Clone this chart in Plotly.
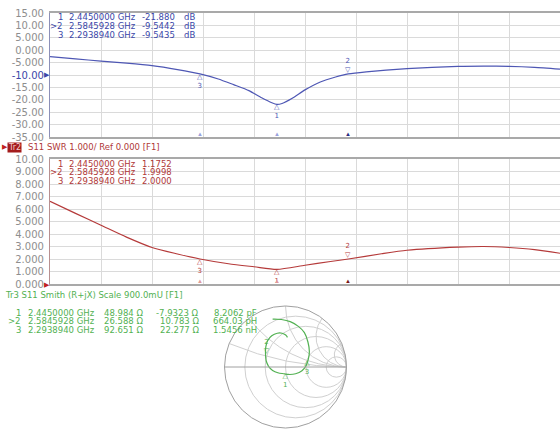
import numpy as np
import plotly.graph_objects as go

W, H = 560, 430

# ---------------- data ----------------
# Trace 1 : S11 log magnitude (dB)
freq_db = [2.000, 2.050, 2.100, 2.150, 2.200, 2.250, 2.294, 2.330, 2.360, 2.390,
           2.415, 2.435, 2.445, 2.455, 2.475, 2.500, 2.530, 2.560, 2.585, 2.620,
           2.700, 2.800, 2.850, 2.900, 2.950, 3.000]
s11_db = [-2.6, -3.5, -4.4, -5.2, -6.2, -7.8, -9.54, -11.6, -13.9, -16.3,
          -19.2, -21.2, -21.88, -21.5, -19.4, -16.0, -12.8, -10.8, -9.54, -8.7,
          -7.4, -6.5, -6.4, -6.5, -6.9, -7.6]

# Trace 2 : S11 SWR
freq_swr = [2.000, 2.050, 2.100, 2.150, 2.200, 2.250, 2.294, 2.350, 2.400, 2.445,
            2.500, 2.550, 2.585, 2.650, 2.700, 2.800, 2.850, 2.900, 2.950, 3.000]
swr = [6.62, 5.65, 4.70, 3.75, 2.92, 2.40, 2.00, 1.62, 1.38, 1.175,
       1.50, 1.80, 2.00, 2.42, 2.70, 2.95, 3.00, 2.92, 2.75, 2.46]

# Trace 3 : S11 Smith, reflection coefficient along the sweep (2 -> 3 GHz)
gamma_re = [-0.190, -0.060, 0.070, 0.190, 0.279, 0.331, 0.352, 0.337, 0.305, 0.243,
            0.149, 0.044, -0.018, -0.113, -0.190, -0.250, -0.285, -0.295, -0.290, -0.262,
            -0.203, -0.122, -0.050, 0.003, 0.029]
gamma_im = [0.706, 0.701, 0.669, 0.599, 0.507, 0.369, 0.230, 0.115, 0.023, -0.055,
            -0.100, -0.110, -0.100, -0.085, -0.050, 0.010, 0.092, 0.185, 0.300, 0.392,
            0.461, 0.498, 0.498, 0.471, 0.438]
SMITH_SCALE = 0.9  # "Scale 900.0mU"

# Markers
marker_ids = ["1", ">2", "3"]
marker_freq = [2.4450000, 2.5845928, 2.2938940]
marker_db = [-21.880, -9.5442, -9.5435]
marker_swr = [1.1752, 1.9998, 2.0000]
marker_R = [48.984, 26.588, 92.651]
marker_X = [-7.9323, 10.783, 22.277]
marker_LC = ["8.2062 pF", "664.03 pH", "1.5456 nH"]

db_ticks = [15, 10, 5, 0, -5, -10, -15, -20, -25, -30, -35]
db_ticktext = ["15.00", "10.00", "5.000", "0.000", "-5.000", "-10.00", "-15.00",
               "-20.00", "-25.00", "-30.00", "-35.00"]
swr_ticks = [10, 9, 8, 7, 6, 5, 4, 3, 2, 1, 0]
swr_ticktext = ["10.00", "9.000", "8.000", "7.000", "6.000", "5.000", "4.000",
                "3.000", "2.000", "1.000", "0.000"]

# ---------------- helpers ----------------
def px(x):
    return x / W

def py(y):
    return 1 - y / H

def fmt5(v):
    ints = len(str(int(abs(v)))) if abs(v) >= 1 else 1
    return f"{v:.{max(0, 5 - ints)}f}"

BLUE = "#4e57b4"
BLUE_TXT = "#3a46a8"
RED = "#b53a3a"
RED_TXT = "#b03838"
GREEN = "#52b152"
GRID = "#dadada"
LBL = "#8e8e8e"
FONT = "DejaVu Sans"

fig = go.Figure()

fig.add_trace(go.Scatter(x=freq_db, y=s11_db, mode="lines",
                         line=dict(color=BLUE, width=1.2, shape="spline", smoothing=0.6),
                         xaxis="x", yaxis="y", hoverinfo="skip", showlegend=False))
fig.add_trace(go.Scatter(x=freq_swr, y=swr, mode="lines",
                         line=dict(color=RED, width=1.2, shape="spline", smoothing=0.7),
                         xaxis="x2", yaxis="y2", hoverinfo="skip", showlegend=False))

g = (np.array(gamma_re) + 1j * np.array(gamma_im)) / SMITH_SCALE
z = (1 + g) / (1 - g)
fig.add_trace(go.Scattersmith(real=z.real, imag=z.imag, mode="lines",
                              line=dict(color=GREEN, width=1.2, shape="spline"),
                              subplot="smith", hoverinfo="skip", showlegend=False))

# smith markers
zm = (np.array(marker_R) + 1j * np.array(marker_X)) / 50.0
gm = (zm - 1) / (zm + 1) / SMITH_SCALE
zmd = (1 + gm) / (1 - gm)
for i, mid in enumerate(marker_ids):
    n = mid.replace(">", "")
    if n == "2":
        txt, pos = "2<br>▽", "top center"
    else:
        txt, pos = "△<br>" + n, "bottom center"
    fig.add_trace(go.Scattersmith(real=[zmd[i].real], imag=[zmd[i].imag], mode="text",
                                  text=[txt], textposition=pos,
                                  textfont=dict(color=GREEN, size=7, family=FONT),
                                  subplot="smith", hoverinfo="skip", showlegend=False))

common_x = dict(range=[2.0, 3.0], tick0=2.0, dtick=0.1, showticklabels=False,
                showgrid=True, gridcolor=GRID, gridwidth=1, zeroline=False, automargin=False,
                showline=True, mirror=True, linecolor="#a9a9a9", linewidth=1.5, ticks="")
common_y = dict(showgrid=True, gridcolor=GRID, gridwidth=1, zeroline=False, automargin=False,
                showline=True, linewidth=1.2, ticks="", tickmode="array",
                tickfont=dict(family=FONT, size=10, color=LBL), ticklabelstandoff=3)

db_tt = [('<span style="color:%s">%s</span>' % (BLUE_TXT, t)) if v == -10 else t
         for v, t in zip(db_ticks, db_ticktext)]

SC, SR = (285.5, 367.0), 61.0  # smith centre / radius in page pixels

fig.update_layout(
    width=W, height=H, margin=dict(l=0, r=0, t=0, b=0, autoexpand=False),
    paper_bgcolor="white", plot_bgcolor="white", showlegend=False,
    xaxis=dict(domain=[px(50), 1], anchor="y", **common_x),
    yaxis=dict(domain=[py(137), py(13)], anchor="x", range=[-35, 15],
               tickvals=db_ticks, ticktext=db_tt, linecolor="#8c90b8", **common_y),
    xaxis2=dict(domain=[px(50), 1], anchor="y2", **common_x),
    yaxis2=dict(domain=[py(284), py(159)], anchor="x2", range=[0, 10],
                tickvals=swr_ticks, ticktext=swr_ticktext, linecolor="#b89090", **common_y),
    smith=dict(domain=dict(x=[px(SC[0] - SR), px(SC[0] + SR)],
                           y=[py(SC[1] + SR), py(SC[1] - SR)]),
               bgcolor="white",
               realaxis=dict(showticklabels=False, ticks="", gridcolor="#d0d0d0",
                             linecolor="#a0a0a0", tickvals=[0.2, 0.5, 1, 2, 5]),
               imaginaryaxis=dict(showticklabels=False, ticks="", gridcolor="#d0d0d0",
                                  linecolor="#a0a0a0", tickvals=[0.2, 0.5, 1, 2, 5])),
)

ann = []

def text(x, y, s, color, size=8.5, xanchor="left", yanchor="middle", **kw):
    ann.append(dict(x=px(x), y=py(y), xref="paper", yref="paper", text=s, showarrow=False,
                    xanchor=xanchor, yanchor=yanchor, borderpad=0,
                    font=dict(family=FONT, size=size, color=color), **kw))

# marker tables
for i, mid in enumerate(marker_ids):
    ft = f"{marker_freq[i]:.7f} GHz"
    # trace 1
    y = 17.5 + 8.5 * i
    text(64, y, mid, BLUE_TXT, xanchor="right")
    text(68, y, ft, BLUE_TXT)
    text(141, y, fmt5(marker_db[i]), BLUE_TXT)
    text(183, y, "dB", BLUE_TXT)
    # trace 2
    y = 163.5 + 8.5 * i
    text(64, y, mid, RED_TXT, xanchor="right")
    text(68, y, ft, RED_TXT)
    text(141, y, fmt5(marker_swr[i]), RED_TXT)
    # trace 3
    y = 312.5 + 8.5 * i
    text(22, y, mid, GREEN, xanchor="right")
    text(27, y, ft, GREEN)
    text(144, y, fmt5(marker_R[i]) + " Ω", GREEN, xanchor="right")
    text(200, y, fmt5(marker_X[i]) + " Ω", GREEN, xanchor="right")
    text(258, y, marker_LC[i], GREEN, xanchor="right")

# headers
text(1, 147, "▶", "#c02020", size=7)
ann.append(dict(x=px(7), y=py(147), xref="paper", yref="paper", text="Tr2", showarrow=False,
                xanchor="left", yanchor="middle", bgcolor="#a41c1c", borderpad=0,
                font=dict(family=FONT, size=8, color="#f2cccc")))
text(27, 147, "S11 SWR 1.000/ Ref 0.000 [F1]", RED_TXT)
text(4, 295, "Tr3 S11 Smith (R+jX) Scale 900.0mU [F1]", GREEN)

# reference level pointers
ann.append(dict(x=px(47), y=-10, xref="paper", yref="y", text="▶", showarrow=False,
                xanchor="center", yanchor="middle", font=dict(size=7, color=BLUE_TXT)))
ann.append(dict(x=px(47), y=0, xref="paper", yref="y2", text="▶", showarrow=False,
                xanchor="center", yanchor="middle", font=dict(size=7, color="#c02020")))

# marker glyphs on traces and on the frequency axis
for i, mid in enumerate(marker_ids):
    n = mid.replace(">", "")
    active = n == "2"
    for xr, yr, val, col, light, dark in (("x", "y", marker_db[i], BLUE, "#9aa2dd", "#2c2c80"),
                                          ("x2", "y2", marker_swr[i], RED, "#e09a9a", "#7a1515")):
        if active:
            ann.append(dict(x=marker_freq[i], y=val, xref=xr, yref=yr, text="2<br>▽",
                            showarrow=False, xanchor="center", yanchor="bottom", yshift=-2,
                            font=dict(family=FONT, size=7, color=col)))
        else:
            ann.append(dict(x=marker_freq[i], y=val, xref=xr, yref=yr, text="△<br>" + n,
                            showarrow=False, xanchor="center", yanchor="top", yshift=3,
                            font=dict(family=FONT, size=7, color=col)))
        ann.append(dict(x=marker_freq[i], y=0, xref=xr, yref=yr + " domain", text="▲",
                        showarrow=False, xanchor="center", yanchor="bottom", yshift=-3,
                        font=dict(size=6, color=dark if active else light)))

fig.update_layout(annotations=ann)
fig.write_html("out.html", config={"displayModeBar": False},
               post_script="document.body.style.margin='0';document.body.style.overflow='hidden';")
